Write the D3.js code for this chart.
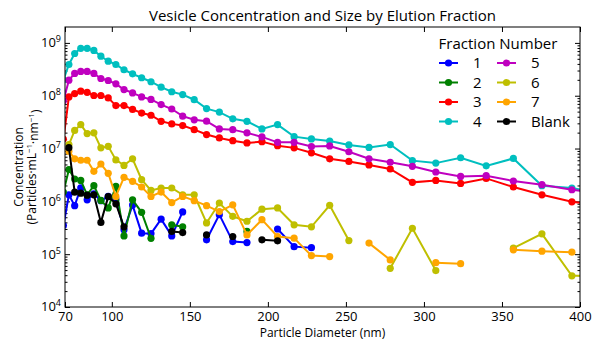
<!DOCTYPE html>
<html>
<head>
<meta charset="utf-8">
<script src="https://cdn.jsdelivr.net/npm/d3@7/dist/d3.min.js"></script>
<style>
  body { margin: 0; background: #fff; }
  svg { font-family: "Open Sans", sans-serif; }
</style>
</head>
<body>
<div id="chart"></div>
<script>
// bin centres (nm)
const diameters = [69, 72.5, 76.2, 80.1, 84.2, 88.5, 93, 97.7, 102.6, 107.8, 113.3, 119.1, 125.1, 131.6,
  138.4, 145.4, 152.8, 160.7, 168.9, 177.5, 186.6, 196.2, 206.2, 216.8, 227.9, 239.6, 251.9, 264.8,
  278.4, 292.6, 307.6, 323.5, 339.9, 357.3, 375.6, 394.8, 415];

// concentration per fraction, null where nothing was measured
const frac1 = [3.5e5, 1.33e6, 8.3e5, 1.8e6, 1.07e6, 1.39e6, 1.03e6, 1.24e6, 1.1e6, 2.9e5, 8.5e5, 2.5e5, 2.45e5, 4.6e5,
  2.22e5, 6.3e5, null, 1.87e5, 5.6e5, 1.73e5, 1.66e5, null, 3.0e5, 1.39e5, 1.33e5, null, null, null,
  null, null, null, null, null, null, null, null, null];
const frac2 = [1.5e6, 4.0e6, 2.65e6, 2.49e6, 1.33e6, 1.98e6, 1.04e6, 7.5e5, 1.92e6, 2.22e5, 1.07e6, 6.2e5, 2.0e5, null,
  3.6e5, 3.3e5, null, null, null, null, 2.7e5, null, null, null, null, null, null, null,
  null, null, null, null, null, null, null, null, null];
const frac3 = [1.5e7, 9.5e7, 1.1e8, 1.22e8, 1.16e8, 1.01e8, 1.01e8, 9.1e7, 6.5e7, 6.5e7, 5.5e7, 4.7e7, 4.27e7, 3.28e7,
  2.93e7, 2.72e7, 2.28e7, 1.84e7, 1.59e7, 1.41e7, 1.28e7, 1.35e7, 1.13e7, 1.03e7, 8.3e6, 6.4e6, 5.7e6, 4.9e6,
  4.1e6, 2.29e6, 2.49e6, 2.19e6, 2.72e6, 1.87e6, 1.33e6, 9.8e5, 8.5e5];
const frac4 = [2.0e8, 3.9e8, 6.3e8, 7.9e8, 7.9e8, 7.2e8, 5.6e8, 4.5e8, 3.9e8, 3.1e8, 2.6e8, 2.19e8, 1.84e8, 1.45e8,
  1.19e8, 1.05e8, 8.4e7, 5.7e7, 4.9e7, 3.65e7, 3.28e7, 2.35e7, 2.84e7, 1.68e7, 1.52e7, 1.39e7, 1.17e7, 1.05e7,
  1.19e7, 5.9e6, 5.3e6, 6.7e6, 4.7e6, 6.5e6, 1.98e6, 1.79e6, 1.4e6];
const frac5 = [8e7, 1.97e8, 2.64e8, 2.88e8, 2.88e8, 2.64e8, 2.12e8, 1.94e8, 1.68e8, 1.31e8, 1.13e8, 9.5e7, 8.5e7, 6.8e7,
  5.6e7, 4.1e7, 3.5e7, 3.3e7, 2.35e7, 2.28e7, 1.98e7, 1.66e7, 1.31e7, 1.31e7, 1.09e7, 1.12e7, 8.7e6, 6.4e6,
  5.5e6, 4.6e6, 3.6e6, 2.97e6, 3.06e6, 2.43e6, 2.07e6, 1.66e6, 1.4e6];
const frac6 = [null, 1.19e7, 2.2e7, 2.84e7, 1.92e7, 1.98e7, 1.03e7, 1.1e7, 6.1e6, 4.8e6, 6.4e6, 2.57e6, 1.61e6, 1.79e6,
  1.79e6, 1.33e6, 1.33e6, 3.9e5, 9.3e5, 5.2e5, 4.2e5, 7.1e5, 7.5e5, 3.6e5, 3.3e5, 8.4e5, 1.81e5, null,
  5.4e4, 3.1e5, 4.9e4, null, null, 1.3e5, 2.43e5, 3.9e4, 3.9e4];
const frac7 = [null, 8.9e6, 6.4e6, 6.0e6, 6.0e6, 3.7e6, 5.1e6, 3.4e6, 1.24e6, 2.85e6, 2.39e6, 1.87e6, 1.24e6, 1.5e6,
  9.5e5, 1.24e6, 1.03e6, 8.3e5, 6.4e5, 8.6e5, 2.32e5, 4.5e5, 2.16e5, 2.01e5, 9.4e4, 9.0e4, null, 1.62e5,
  7.8e4, null, 6.9e4, 6.6e4, null, 1.21e5, 1.14e5, 1.09e5, null];
const blank = [null, 1.04e7, 1.49e6, 1.43e6, 1.31e6, 1.33e6, 4.0e5, 1.23e6, 9e5, 3.3e5, null, null, null, null,
  2.7e5, 2.57e5, null, 2.32e5, null, 2.16e5, null, 1.87e5, 1.79e5, null, null, null, null, null,
  null, null, null, null, null, null, null, null, null];

const seriesNames = ['1', '2', '3', '4', '5', '6', '7', 'Blank'];
const seriesValues = [frac1, frac2, frac3, frac4, frac5, frac6, frac7, blank];
const seriesColors = ['#0000ff', '#008000', '#ff0000', '#00bfbf', '#bf00bf', '#bfbf00', '#ffa500', '#000000'];

const xTicks = [70, 100, 150, 200, 250, 300, 350, 400];
const yTicks = [1e4, 1e5, 1e6, 1e7, 1e8, 1e9];

const width = 603, height = 348;
const plotL = 65, plotR = 580, plotT = 27, plotB = 307;

const svg = d3.select('#chart').append('svg')
  .attr('width', width)
  .attr('height', height);

const x = d3.scaleLinear().domain([70, 400]).range([plotL, plotR]);
const y = d3.scaleLog().domain([1e4, 2e9]).range([plotB, plotT]);

svg.append('defs').append('clipPath').attr('id', 'plot-clip')
  .append('rect')
  .attr('x', plotL).attr('y', plotT)
  .attr('width', plotR - plotL).attr('height', plotB - plotT);

// minor ticks for the log axis
const minor = [];
for (let e = 4; e <= 9; e++) {
  for (let m = 2; m <= 9; m++) {
    const v = m * Math.pow(10, e);
    if (v < 2e9) minor.push(v);
  }
}

const tickStyle = g => {
  g.select('.domain').remove();
  g.selectAll('line').attr('stroke', '#000');
};

// x axis, bottom with labels and top without
svg.append('g')
  .attr('transform', `translate(0,${plotB})`)
  .call(d3.axisBottom(x).tickValues(xTicks).tickSize(-5).tickPadding(5).tickFormat(d3.format('d')))
  .call(tickStyle)
  .call(g => g.selectAll('text').attr('font-size', 13).attr('fill', '#000').attr('font-family', 'Open Sans'));

svg.append('g')
  .attr('transform', `translate(0,${plotT})`)
  .call(d3.axisTop(x).tickValues(xTicks).tickSize(-5).tickFormat(''))
  .call(tickStyle);

// y axis major ticks
const yLeft = svg.append('g')
  .attr('transform', `translate(${plotL},0)`)
  .call(d3.axisLeft(y).tickValues(yTicks).tickSize(-5).tickFormat(''))
  .call(tickStyle);

yLeft.selectAll('.tick').append('text')
  .attr('x', -4)
  .attr('dy', '0.3em')
  .attr('text-anchor', 'end')
  .attr('fill', '#000')
  .attr('font-size', 13)
  .attr('font-family', 'Open Sans')
  .each(function (d) {
    const t = d3.select(this);
    t.append('tspan').text('10');
    t.append('tspan')
      .attr('font-size', 9)
      .attr('dy', '-0.55em')
      .text(Math.round(Math.log10(d)));
  });

svg.append('g')
  .attr('transform', `translate(${plotL},0)`)
  .call(d3.axisLeft(y).tickValues(minor).tickSize(-2.5).tickFormat(''))
  .call(tickStyle);

svg.append('g')
  .attr('transform', `translate(${plotR},0)`)
  .call(d3.axisRight(y).tickValues(yTicks).tickSize(-5).tickFormat(''))
  .call(tickStyle);

svg.append('g')
  .attr('transform', `translate(${plotR},0)`)
  .call(d3.axisRight(y).tickValues(minor).tickSize(-2.5).tickFormat(''))
  .call(tickStyle);

// data
const plot = svg.append('g').attr('clip-path', 'url(#plot-clip)');

const line = d3.line()
  .defined(d => d.v != null)
  .x(d => x(d.d))
  .y(d => y(d.v));

seriesValues.forEach((vals, i) => {
  const pts = diameters.map((d, j) => ({ d: d, v: vals[j] }));
  const g = plot.append('g');
  g.append('path')
    .datum(pts)
    .attr('d', line)
    .attr('fill', 'none')
    .attr('stroke', seriesColors[i])
    .attr('stroke-width', 2);
  g.selectAll('circle')
    .data(pts.filter(p => p.v != null))
    .enter().append('circle')
    .attr('cx', p => x(p.d))
    .attr('cy', p => y(p.v))
    .attr('r', 3.6)
    .attr('fill', seriesColors[i]);
});

// frame
svg.append('rect')
  .attr('x', plotL).attr('y', plotT)
  .attr('width', plotR - plotL).attr('height', plotB - plotT)
  .attr('fill', 'none')
  .attr('stroke', '#000')
  .attr('stroke-width', 1);

// title and axis labels
svg.append('text')
  .attr('x', (plotL + plotR) / 2)
  .attr('y', 21)
  .attr('text-anchor', 'middle')
  .attr('font-size', 15)
  .text('Vesicle Concentration and Size by Elution Fraction');

svg.append('text')
  .attr('x', (plotL + plotR) / 2)
  .attr('y', 337)
  .attr('text-anchor', 'middle')
  .attr('font-size', 12)
  .text('Particle Diameter (nm)');

const yLab = svg.append('g')
  .attr('transform', `translate(0,${(plotT + plotB) / 2}) rotate(-90)`);
yLab.append('text')
  .attr('x', 0).attr('y', 23)
  .attr('text-anchor', 'middle')
  .attr('font-size', 12)
  .text('Concentration');
const unit = yLab.append('text')
  .attr('x', 0).attr('y', 36)
  .attr('text-anchor', 'middle')
  .attr('font-size', 12);
unit.append('tspan').text('(Particles·mL');
unit.append('tspan').attr('font-size', 8).attr('dy', '-0.5em').text('−1');
unit.append('tspan').attr('dy', '0.5em').text('·nm');
unit.append('tspan').attr('font-size', 8).attr('dy', '-0.5em').text('−1');
unit.append('tspan').attr('dy', '0.5em').text(')');

// legend, two columns
const legend = svg.append('g');
legend.append('text')
  .attr('x', 498).attr('y', 49)
  .attr('text-anchor', 'middle')
  .attr('font-size', 15)
  .text('Fraction Number');

seriesNames.forEach((name, i) => {
  const col = Math.floor(i / 4), row = i % 4;
  const lx = 439 + col * 58, ly = 63 + row * 19.5;
  const item = legend.append('g').attr('transform', `translate(${lx},${ly})`);
  item.append('line')
    .attr('x1', 0).attr('x2', 19)
    .attr('stroke', seriesColors[i]).attr('stroke-width', 2);
  item.append('circle')
    .attr('cx', 9.5).attr('r', 3.6)
    .attr('fill', seriesColors[i]);
  item.append('text')
    .attr('x', 34).attr('dy', '0.35em')
    .attr('font-size', 15)
    .text(name);
});
</script>
</body>
</html>
